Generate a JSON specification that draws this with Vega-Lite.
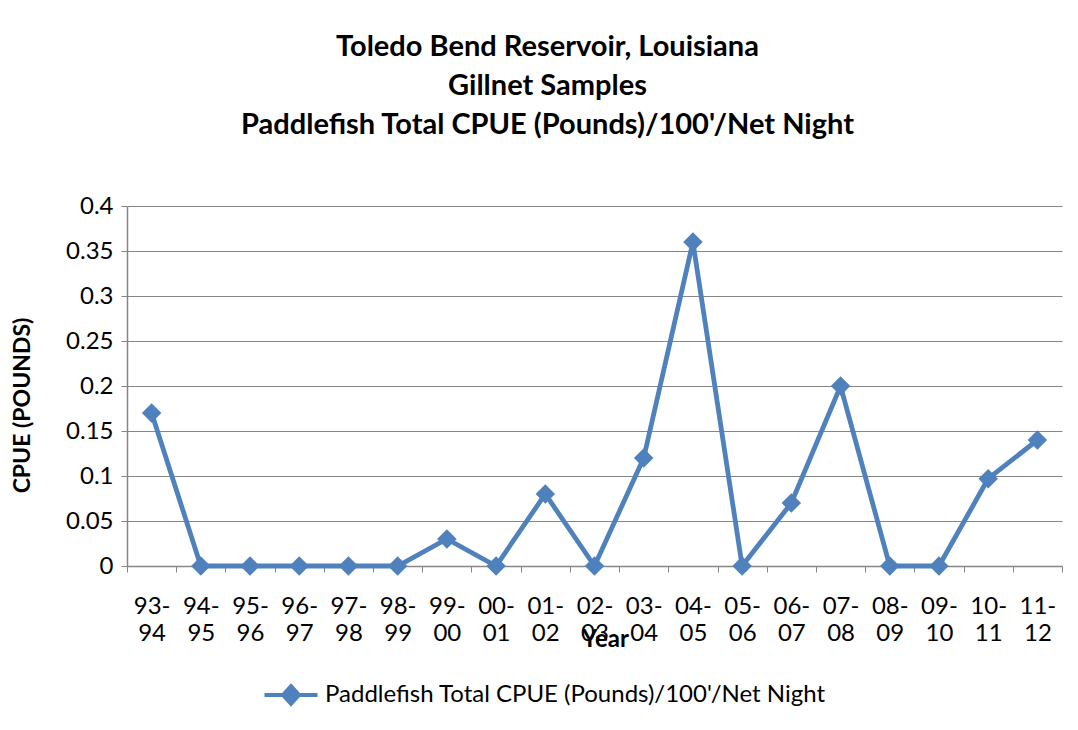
{
  "$schema": "https://vega.github.io/schema/vega-lite/v6.json",
  "width": 935,
  "height": 360,
  "autosize": {"type": "none"},
  "padding": {"left": 127, "top": 206, "right": 16, "bottom": 164},
  "background": "white",
  "config": {"font": "Lato", "view": {"stroke": null}},
  "title": {
    "text": ["Toledo Bend Reservoir, Louisiana", "Gillnet Samples", "Paddlefish Total CPUE (Pounds)/100'/Net Night"],
    "fontSize": 29,
    "fontWeight": "bold",
    "lineHeight": 39,
    "anchor": "middle",
    "dx": -47,
    "offset": 54,
    "color": "black",
    "font": "Lato"
  },
  "data": {
    "values": [
      {"year": "93-94", "cpue": 0.17, "series": "Paddlefish Total CPUE (Pounds)/100'/Net Night"},
      {"year": "94-95", "cpue": 0, "series": "Paddlefish Total CPUE (Pounds)/100'/Net Night"},
      {"year": "95-96", "cpue": 0, "series": "Paddlefish Total CPUE (Pounds)/100'/Net Night"},
      {"year": "96-97", "cpue": 0, "series": "Paddlefish Total CPUE (Pounds)/100'/Net Night"},
      {"year": "97-98", "cpue": 0, "series": "Paddlefish Total CPUE (Pounds)/100'/Net Night"},
      {"year": "98-99", "cpue": 0, "series": "Paddlefish Total CPUE (Pounds)/100'/Net Night"},
      {"year": "99-00", "cpue": 0.03, "series": "Paddlefish Total CPUE (Pounds)/100'/Net Night"},
      {"year": "00-01", "cpue": 0, "series": "Paddlefish Total CPUE (Pounds)/100'/Net Night"},
      {"year": "01-02", "cpue": 0.08, "series": "Paddlefish Total CPUE (Pounds)/100'/Net Night"},
      {"year": "02-03", "cpue": 0, "series": "Paddlefish Total CPUE (Pounds)/100'/Net Night"},
      {"year": "03-04", "cpue": 0.12, "series": "Paddlefish Total CPUE (Pounds)/100'/Net Night"},
      {"year": "04-05", "cpue": 0.36, "series": "Paddlefish Total CPUE (Pounds)/100'/Net Night"},
      {"year": "05-06", "cpue": 0, "series": "Paddlefish Total CPUE (Pounds)/100'/Net Night"},
      {"year": "06-07", "cpue": 0.07, "series": "Paddlefish Total CPUE (Pounds)/100'/Net Night"},
      {"year": "07-08", "cpue": 0.2, "series": "Paddlefish Total CPUE (Pounds)/100'/Net Night"},
      {"year": "08-09", "cpue": 0, "series": "Paddlefish Total CPUE (Pounds)/100'/Net Night"},
      {"year": "09-10", "cpue": 0, "series": "Paddlefish Total CPUE (Pounds)/100'/Net Night"},
      {"year": "10-11", "cpue": 0.097, "series": "Paddlefish Total CPUE (Pounds)/100'/Net Night"},
      {"year": "11-12", "cpue": 0.14, "series": "Paddlefish Total CPUE (Pounds)/100'/Net Night"}
    ]
  },
  "encoding": {
    "x": {
      "field": "year",
      "type": "ordinal",
      "sort": null,
      "scale": {"type": "band", "paddingInner": 0, "paddingOuter": 0},
      "axis": {
        "title": "Year",
        "titleFont": "Lato",
        "titleFontSize": 24,
        "titleFontWeight": "bold",
        "titleColor": "black",
        "titleX": 478,
        "titleY": 73,
        "titleBaseline": "middle",
        "titleAlign": "center",
        "labelAngle": 0,
        "labelExpr": "[slice(datum.label, 0, 3), slice(datum.label, 3)]",
        "labelFontSize": 24,
        "labelLineHeight": 27,
        "labelColor": "black",
        "labelPadding": 34,
        "labelBaseline": "middle",
        "tickBand": "extent",
        "tickSize": 6,
        "tickColor": "#868686",
        "domainColor": "#868686",
        "domainWidth": 1.5,
        "grid": false
      }
    },
    "y": {
      "field": "cpue",
      "type": "quantitative",
      "scale": {"domain": [0, 0.4], "nice": false},
      "axis": {
        "title": "CPUE (POUNDS)",
        "titleFont": "Lato",
        "titleFontSize": 23,
        "titleFontWeight": "bold",
        "titleColor": "black",
        "titleAngle": -90,
        "titleX": -105,
        "titleY": 199,
        "titleBaseline": "middle",
        "titleAlign": "center",
        "values": [0, 0.05, 0.1, 0.15, 0.2, 0.25, 0.3, 0.35, 0.4],
        "format": "~g",
        "labelFontSize": 24,
        "labelColor": "black",
        "labelPadding": 8,
        "tickSize": 6,
        "tickColor": "#868686",
        "domainColor": "#868686",
        "domainWidth": 1.5,
        "grid": true,
        "gridColor": "#868686",
        "gridWidth": 1.2
      }
    },
    "color": {
      "field": "series",
      "type": "nominal",
      "scale": {"range": ["#4F81BD"]},
      "legend": {
        "title": null,
        "orient": "none",
        "legendX": 144,
        "legendY": 469,
        "padding": 0,
        "symbolType": "M-1.5,0H1.5M0,-0.5L0.45,0L0,0.5L-0.45,0Z",
        "symbolSize": 1250,
        "symbolStrokeWidth": 4,
        "symbolFillColor": "#4F81BD",
        "symbolStrokeColor": "#4F81BD",
        "labelFontSize": 24,
        "labelFont": "Lato",
        "labelColor": "black",
        "labelOffset": 14,
        "labelLimit": 800
      }
    }
  },
  "layer": [
    {"mark": {"type": "line", "strokeWidth": 4.8}},
    {"mark": {"type": "point", "shape": "diamond", "filled": true, "size": 380, "opacity": 1}}
  ]
}
